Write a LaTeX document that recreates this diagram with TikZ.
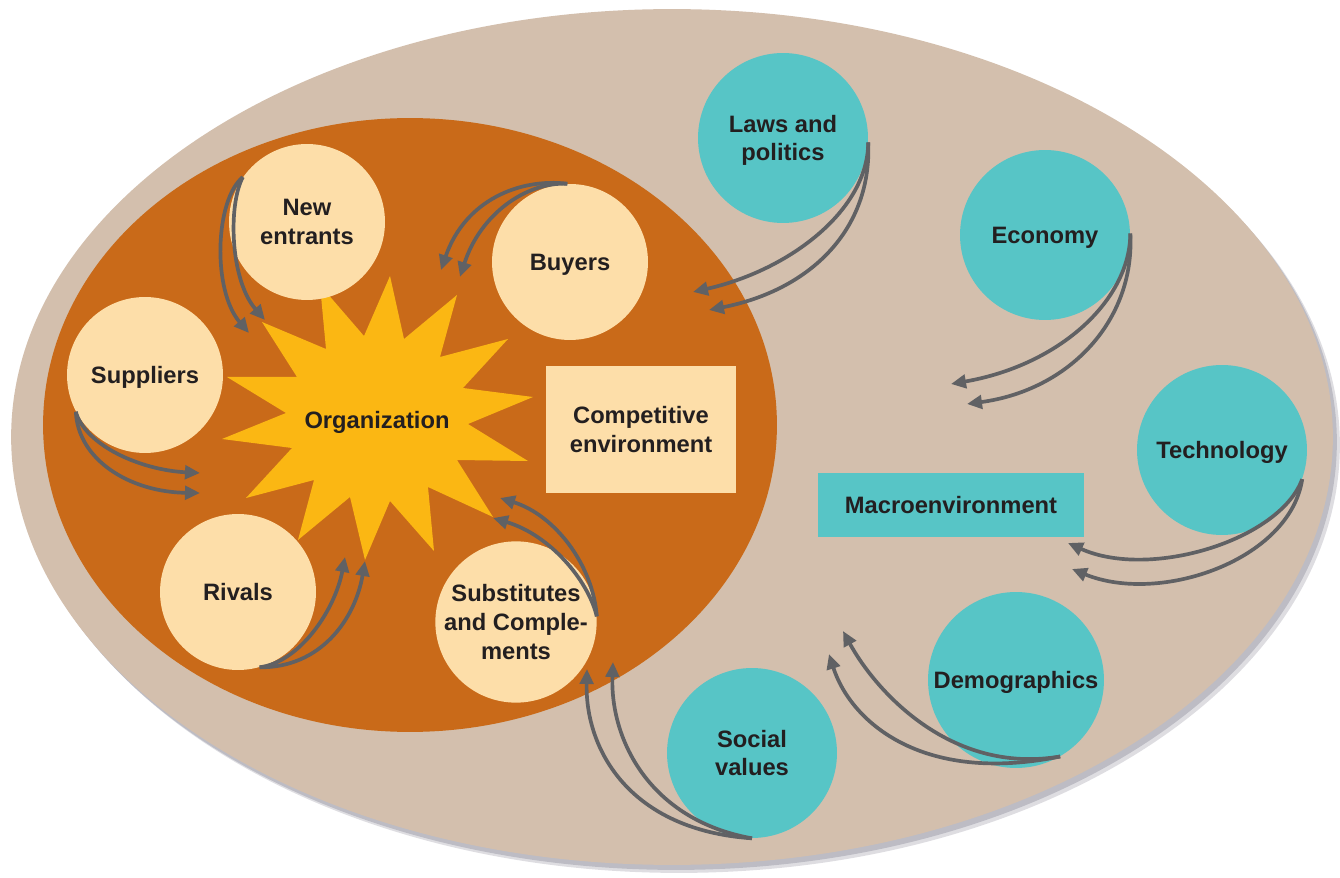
\documentclass[tikz,border=0pt]{standalone}
\usepackage{fontspec}
\setmainfont{Liberation Sans}
\usetikzlibrary{arrows.meta}
\definecolor{outerc}{HTML}{D3BFAD}
\definecolor{shadowc}{HTML}{BDBCC4}
\definecolor{orangec}{HTML}{C96A19}
\definecolor{starc}{HTML}{FBB713}
\definecolor{lightc}{HTML}{FDDEA9}
\definecolor{tealc}{HTML}{57C5C6}
\definecolor{arrowc}{HTML}{606164}
\definecolor{textc}{HTML}{231F20}
\begin{document}
\begin{tikzpicture}[x=0.02cm,y=-0.02cm,
  lbl/.style={font=\fontsize{13.5}{16.3}\selectfont\bfseries, text=textc, align=center},
  lowtext/.style={text depth=-1pt},
  forcecirc/.style={circle, fill=lightc, minimum size=3.12cm, inner sep=0pt, lbl, lowtext},
  macrocirc/.style={circle, fill=tealc, minimum size=3.4cm, inner sep=0pt, lbl, lowtext},
  infl/.style={draw=arrowc, line width=2.1pt, -{Triangle[length=0.3cm,width=0.27cm]}},
]
\useasboundingbox (0,0) rectangle (1340,878);
% outer ellipse with shadow
\fill[shadowc, opacity=0.5] (679,445) ellipse [x radius=13.22cm, y radius=8.56cm];
\fill[shadowc] (676,442) ellipse [x radius=13.22cm, y radius=8.56cm];
\fill[outerc] (672,437) ellipse [x radius=13.22cm, y radius=8.56cm];
% inner competitive ellipse
\fill[orangec] (410,425) ellipse [x radius=7.34cm, y radius=6.14cm];
% star
\fill[starc] (320,285) -- (364,336) -- (390,276) -- (404,339) -- (457,295) -- (440,357)
  -- (508,339) -- (463,388) -- (533,397) -- (468,424) -- (528,461) -- (457,460)
  -- (493,517) -- (428,487) -- (434,551) -- (390,501) -- (365,560) -- (350,497)
  -- (298,540) -- (314,480) -- (246,498) -- (292,448) -- (222,439) -- (286,413)
  -- (227,377) -- (297,377) -- (262,322) -- (326,349) -- cycle;
\node[lbl, lowtext] (org) at (377,420) {Organization};
% competitive forces
\node[forcecirc] (ne) at (307,222) {New\\entrants};
\node[forcecirc] (buy) at (570,262) {Buyers};
\node[forcecirc] (sup) at (145,375) {Suppliers};
\node[forcecirc] (riv) at (238,592) {Rivals};
\node[forcecirc] (sub) at (516,622) {Substitutes\\and Comple-\\ments};
\node[lbl, lowtext, fill=lightc, minimum width=3.8cm, minimum height=2.54cm, inner sep=0pt] (comp) at (641,429.5) {Competitive\\environment};
% macro forces
\node[macrocirc] (law) at (783,138) {Laws and\\politics};
\node[macrocirc] (eco) at (1045,235) {Economy};
\node[macrocirc] (tec) at (1222,450) {Technology};
\node[macrocirc, minimum size=3.52cm] (dem) at (1016,680) {Demographics};
\node[macrocirc] (soc) at (752,753) {Social\\values};
\node[lbl, fill=tealc, minimum width=5.32cm, minimum height=1.28cm, inner sep=0pt] (mac) at (951,505) {Macroenvironment};
% arrow end points
\coordinate (neA) at (249,333); \coordinate (neB) at (265,320);
\coordinate (buA) at (441,270); \coordinate (buB) at (460,277);
\coordinate (suA) at (200,473); \coordinate (suB) at (200,493);
\coordinate (riA) at (345,557); \coordinate (riB) at (365,561);
\coordinate (sbA) at (500,498); \coordinate (sbB) at (493,518);
\coordinate (laA) at (693,292); \coordinate (laB) at (709,310);
\coordinate (ecA) at (951,384); \coordinate (ecB) at (967,404);
\coordinate (teA) at (1068,543); \coordinate (teB) at (1072,569);
\coordinate (deA) at (843,631); \coordinate (deB) at (829,654);
\coordinate (soA) at (587,669); \coordinate (soB) at (613,662);
% arrows
\draw[infl] (ne.145) .. controls (215,200) and (212,290) .. (neA);
\draw[infl] (ne.145) .. controls (228,205) and (230,280) .. (neB);
\draw[infl] (buy.92) .. controls (520,178) and (465,200) .. (buA);
\draw[infl] (buy.92) .. controls (525,182) and (480,215) .. (buB);
\draw[infl] (sup.208) .. controls (85,445) and (140,470) .. (suA);
\draw[infl] (sup.208) .. controls (78,460) and (130,492) .. (suB);
\draw[infl] (riv.286) .. controls (300,662) and (335,610) .. (riA);
\draw[infl] (riv.286) .. controls (320,668) and (355,620) .. (riB);
\draw[infl] (sub.4) .. controls (593,565) and (555,515) .. (sbA);
\draw[infl] (sub.4) .. controls (588,580) and (550,535) .. (sbB);
\draw[infl] (law.357) .. controls (868,210) and (790,270) .. (laA);
\draw[infl] (law.357) .. controls (872,230) and (810,290) .. (laB);
\draw[infl] (eco.1) .. controls (1130,300) and (1060,365) .. (ecA);
\draw[infl] (eco.1) .. controls (1135,320) and (1070,390) .. (ecB);
\draw[infl] (tec.340) .. controls (1280,540) and (1150,580) .. (teA);
\draw[infl] (tec.340) .. controls (1290,560) and (1160,605) .. (teB);
\draw[infl] (dem.300) .. controls (950,775) and (875,690) .. (deA);
\draw[infl] (dem.300) .. controls (920,785) and (850,720) .. (deB);
\draw[infl] (soc.270) .. controls (630,830) and (585,750) .. (soA);
\draw[infl] (soc.270) .. controls (650,820) and (610,740) .. (soB);
\end{tikzpicture}
\end{document}
